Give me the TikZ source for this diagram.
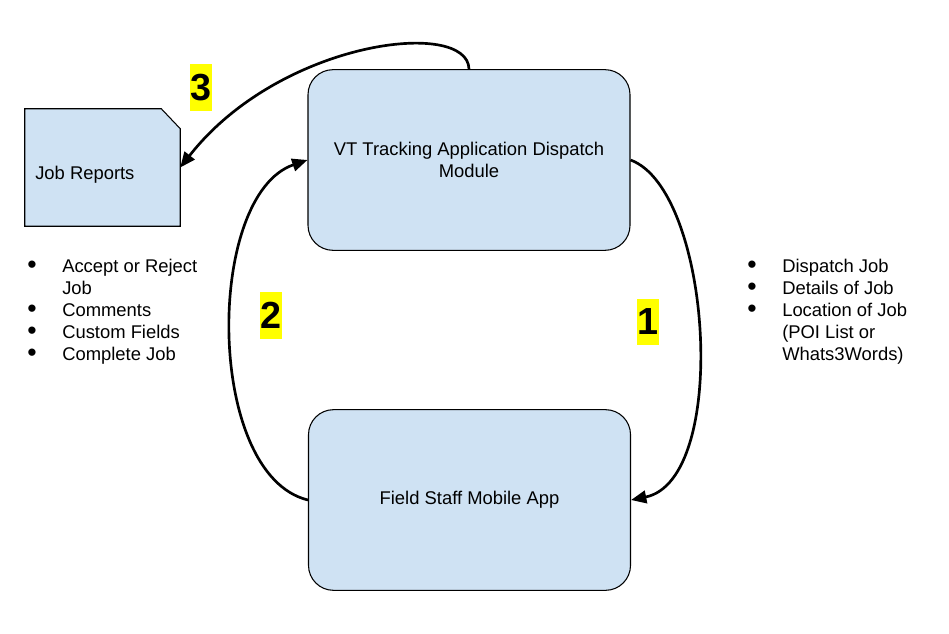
\documentclass[tikz,border=0pt]{standalone}
\usepackage{fontspec}
\setmainfont{Liberation Sans}
\usetikzlibrary{arrows.meta}
\definecolor{boxblue}{HTML}{CFE2F3}
\definecolor{hl}{HTML}{FFFF00}
\tikzset{
  basefont/.style={font=\fontsize{13.8}{16.5}\selectfont},
  roundbox/.style={draw=black, line width=0.8pt, fill=boxblue, rounded corners=18.75pt,
    minimum width=241.5pt, minimum height=135.5pt, align=center, basefont, inner sep=0pt},
  jrbox/.style={minimum width=116.25pt, minimum height=87.75pt, inner sep=0pt},
  numlabel/.style={fill=hl, inner sep=0pt, minimum width=16.5pt, minimum height=35pt,
    font=\fontsize{28.3}{34}\selectfont\bfseries},
  listtext/.style={basefont, align=left, inner sep=0pt, anchor=north west},
  conn/.style={line width=2pt, -{Triangle[length=11.5pt, width=9.5pt]}},
}
\newcommand{\bul}{\makebox[26.25pt][l]{\smash{\raisebox{-1pt}{\scalebox{1.45}{\textbullet}}}}}
\newcommand{\ind}{\hspace*{26.25pt}}
\begin{document}
\begin{tikzpicture}[x=0.75pt, y=-0.75pt]
\useasboundingbox (0,0) rectangle (949,634);

% main boxes
\node[roundbox] (top) at (469,160) {VT Tracking Application Dispatch\\Module};
\node[roundbox] (bottom) at (469.5,500) {Field Staff Mobile App};

% job reports (folded corner)
\node[jrbox] (jr) at (102.5,167.5) {};
\draw[line width=0.8pt, fill=boxblue] (jr.north west) -- ([xshift=-14.25pt]jr.north east)
  -- ([yshift=-15pt]jr.north east) -- (jr.south east) -- (jr.south west) -- cycle;
\node[basefont, anchor=west, inner sep=0pt] (jrlabel) at (35,175) {Job Reports};

% number labels
\node[numlabel] (n3) at (201,87.5) {3};
\node[numlabel] (n2) at (270.5,315.5) {2};
\node[numlabel] (n1) at (648,322) {1};

% lists
\node[listtext] (leftlist) at (27,258.5) {\bul Accept or Reject\\ \ind Job\\ \bul Comments\\ \bul Custom Fields\\ \bul Complete Job};
\node[listtext] (rightlist) at (747,258.5) {\bul Dispatch Job\\ \bul Details of Job\\ \bul Location of Job\\ \ind (POI List or\\ \ind Whats3Words)};

% connectors
\draw[conn] (top.east) .. controls (712,190) and (730,480) .. (bottom.east);
\draw[conn] (bottom.west) .. controls (205,475) and (205,195) .. (top.west);
\draw[conn] (top.north) .. controls (468,18) and (280,40) .. (jr.east);
\end{tikzpicture}
\end{document}
